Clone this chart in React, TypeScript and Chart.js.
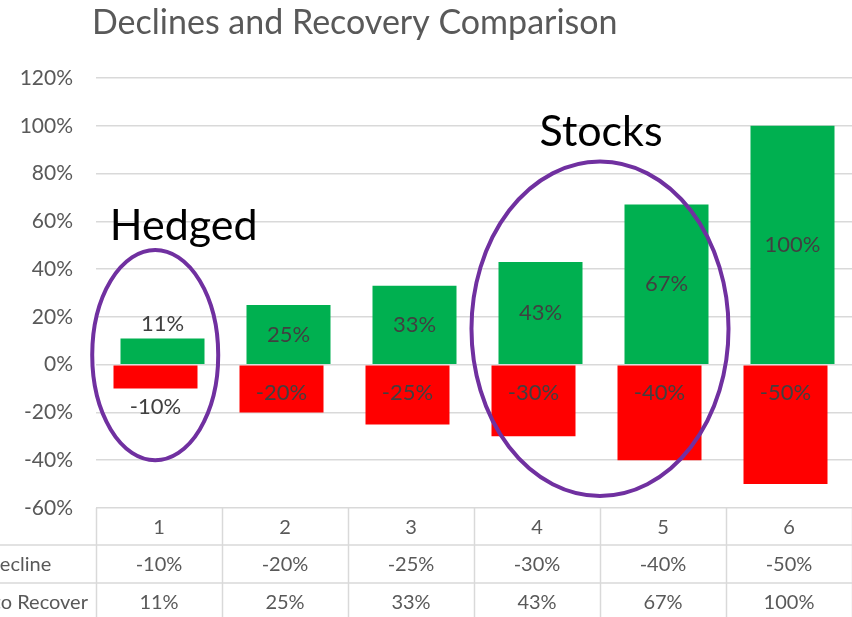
import React, { useEffect, useRef } from "react";
import { Chart, registerables } from "chart.js";
Chart.register(...registerables);

const titleText = "Declines and Recovery Comparison";
const categories = ["1", "2", "3", "4", "5", "6"];
const seriesNames = ["Decline", "Gain to Recover"];
const declineValues = [-10, -20, -25, -30, -40, -50];
const recoverValues = [11, 25, 33, 43, 67, 100];
const yMin = -60;
const yMax = 120;
const yStep = 20;

// annotation callouts, in data units (category index / percent value)
const ellipseNotes = [
  { cx: -0.03, cy: 4, rxCats: 0.5, ryVal: 44 },
  { cx: 3.5, cy: 15, rxCats: 1.02, ryVal: 70 },
];
const textNotes = [
  { text: "Hedged", xCat: -0.39, yVal: 52.3 },
  { text: "Stocks", xCat: 3.02, yVal: 91.7 },
];

const FONT = "Lato, 'Open Sans', sans-serif";
const GREY = "#595959";
const LABEL = "#404040";
const GRID = "#d9d9d9";

const overlay = {
  id: "overlay",
  afterDraw(chart: any) {
    const ctx = chart.ctx as CanvasRenderingContext2D;
    const xs = chart.scales.x;
    const ys = chart.scales.y;
    const area = chart.chartArea;
    const catW = xs.getPixelForValue(1) - xs.getPixelForValue(0);
    const H = chart.height;
    ctx.save();

    // title
    ctx.fillStyle = GREY;
    ctx.font = `34px ${FONT}`;
    ctx.textAlign = "left";
    ctx.textBaseline = "alphabetic";
    ctx.fillText(titleText, area.left - 4, 34);

    // data labels
    ctx.textBaseline = "middle";
    ctx.font = `22px ${FONT}`;
    ctx.fillStyle = LABEL;
    ctx.textAlign = "center";
    const decMeta = chart.getDatasetMeta(0);
    const recMeta = chart.getDatasetMeta(1);
    decMeta.data.forEach((bar: any, i: number) => {
      const h = Math.abs(bar.y - bar.base);
      const y = h > 40 ? bar.base + 27 : bar.y + 18;
      ctx.fillText(declineValues[i] + "%", bar.x, y);
    });
    recMeta.data.forEach((bar: any, i: number) => {
      const h = Math.abs(bar.y - bar.base);
      const y = h > 40 ? (bar.y + bar.base) / 2 : bar.y - 14;
      ctx.fillText(recoverValues[i] + "%", bar.x, y);
    });

    // data table
    const t0 = area.bottom;
    const r1 = t0 + 37;
    const r2 = r1 + 38;
    const r3 = r2 + 38;
    ctx.strokeStyle = GRID;
    ctx.lineWidth = 1.5;
    ctx.beginPath();
    ctx.moveTo(0, r1);
    ctx.lineTo(area.right, r1);
    ctx.moveTo(0, r2);
    ctx.lineTo(area.right, r2);
    ctx.moveTo(0, r3);
    ctx.lineTo(area.right, r3);
    for (let i = 0; i <= categories.length; i++) {
      const x = Math.round(xs.getPixelForValue(i) - catW / 2) + 0.5;
      ctx.moveTo(x, t0);
      ctx.lineTo(x, H);
    }
    ctx.stroke();

    ctx.font = `20px ${FONT}`;
    ctx.fillStyle = GREY;
    ctx.textAlign = "center";
    categories.forEach((c, i) => {
      const x = xs.getPixelForValue(i);
      ctx.fillText(c, x, (t0 + r1) / 2 + 1);
      ctx.fillText(declineValues[i] + "%", x, (r1 + r2) / 2 + 1);
      ctx.fillText(recoverValues[i] + "%", x, (r2 + r3) / 2 + 1);
    });
    const hx = area.left - 78;
    ctx.fillText(seriesNames[0], hx, (r1 + r2) / 2 + 1);
    ctx.fillText(seriesNames[1], hx, (r2 + r3) / 2 + 1);

    // annotations
    ctx.strokeStyle = "#7030A0";
    ctx.lineWidth = 4;
    const unit = ys.getPixelForValue(0) - ys.getPixelForValue(1);
    ellipseNotes.forEach((e) => {
      const cx = xs.getPixelForValue(e.cx);
      const cy = ys.getPixelForValue(e.cy);
      ctx.beginPath();
      ctx.ellipse(cx, cy, e.rxCats * catW, e.ryVal * unit, 0, 0, Math.PI * 2);
      ctx.stroke();
    });
    ctx.font = `43px ${FONT}`;
    ctx.fillStyle = "#000000";
    ctx.textAlign = "left";
    ctx.textBaseline = "alphabetic";
    textNotes.forEach((n) => {
      ctx.fillText(n.text, xs.getPixelForValue(n.xCat), ys.getPixelForValue(n.yVal));
    });
    ctx.restore();
  },
};

export default function App() {
  const ref = useRef<HTMLCanvasElement>(null);
  useEffect(() => {
    if (!ref.current) return;
    const chart = new Chart(ref.current, {
      type: "bar",
      data: {
        labels: categories,
        datasets: [
          {
            label: seriesNames[0],
            data: declineValues,
            backgroundColor: "#FF0000",
            categoryPercentage: 14 / 126,
            barPercentage: 12,
          },
          {
            label: seriesNames[1],
            data: recoverValues,
            backgroundColor: "#00B050",
            categoryPercentage: 14 / 126,
            barPercentage: 12,
          },
        ],
      },
      options: {
        responsive: false,
        animation: false,
        layout: { padding: { top: 78, bottom: 109, left: 0, right: 0 } },
        plugins: {
          legend: { display: false },
          title: { display: false },
          tooltip: { enabled: false },
        },
        scales: {
          x: { display: false },
          y: {
            min: yMin,
            max: yMax,
            border: { display: false },
            grid: { color: GRID, lineWidth: 1.5, drawTicks: false },
            ticks: {
              stepSize: yStep,
              padding: 23,
              color: GREY,
              font: { family: FONT, size: 21 },
              callback: (v: any) => v + "%",
            },
            afterFit: (s: any) => {
              s.width = 96;
            },
          },
        },
      },
      plugins: [overlay],
    });
    return () => chart.destroy();
  }, []);
  return (
    <div style={{ position: "fixed", left: 0, top: 0, width: 852, height: 617 }}>
      <canvas ref={ref} width={852} height={617} style={{ width: 852, height: 617, display: "block" }} />
    </div>
  );
}
